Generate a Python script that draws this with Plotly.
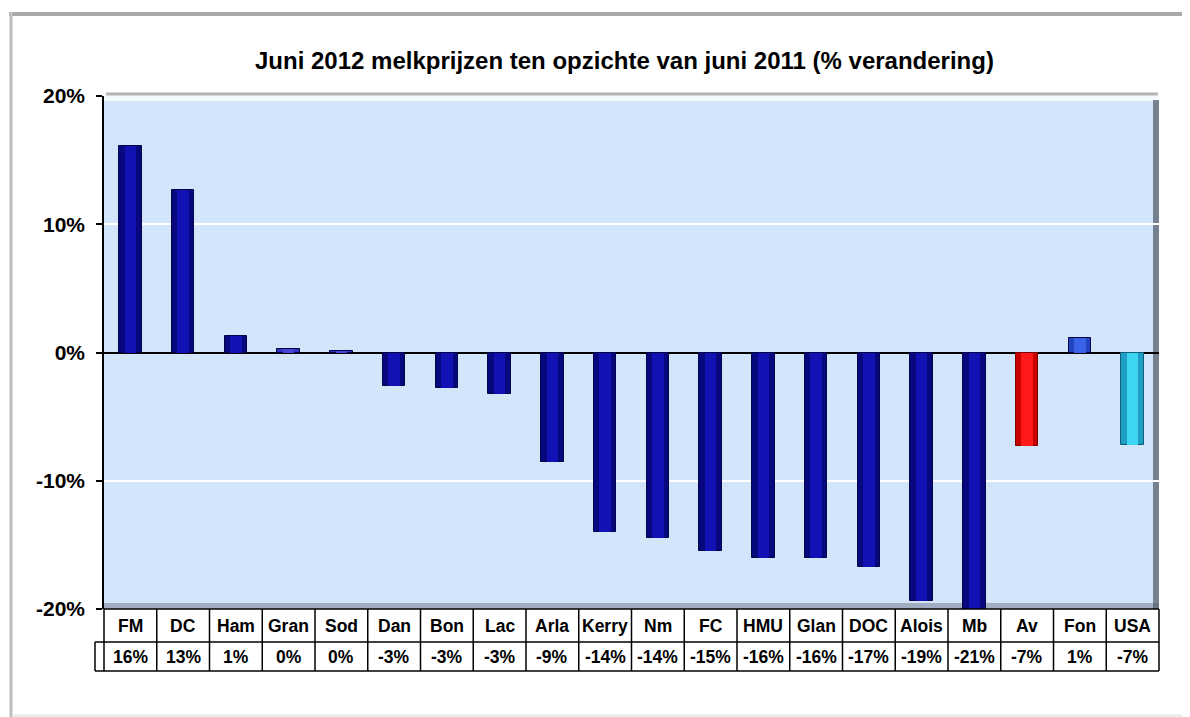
import plotly.graph_objects as go

categories = ["FM", "DC", "Ham", "Gran", "Sod", "Dan", "Bon", "Lac", "Arla", "Kerry",
              "Nm", "FC", "HMU", "Glan", "DOC", "Alois", "Mb", "Av", "Fon", "USA"]
changes = [16.1, 12.7, 1.3, 0.27, 0.13, -2.6, -2.75, -3.2, -8.55, -14.0,
           -14.45, -15.5, -16.0, -16.0, -16.7, -19.4, -21.0, -7.3, 1.1, -7.2]
table_values = ["16%", "13%", "1%", "0%", "0%", "-3%", "-3%", "-3%", "-9%", "-14%",
                "-14%", "-15%", "-16%", "-16%", "-17%", "-19%", "-21%", "-7%", "1%", "-7%"]
y_tickvals = [-20, -10, 0, 10, 20]
y_ticktext = ["-20%", "-10%", "0%", "10%", "20%"]
title_text = "Juni 2012 melkprijzen ten opzichte van juni 2011 (% verandering)"

OFF = 8  # page body margin
W, H = 1190 - OFF, 717 - OFF
L, R, T, B = 104, 1159, 96, 609  # plot area in screen pixels
FONT = "Liberation Sans, Arial, sans-serif"


def px(p):
    return (p - L) / (R - L)


def py(p):
    return (B - p) / (B - T)


special_outer = {"Gran": "#3434C0", "Sod": "#3434C0", "Av": "#C80000", "Fon": "#2244C0", "USA": "#1E9EC4"}
special_inner = {"Gran": "#4646D6", "Sod": "#4646D6", "Av": "#FF1A1A", "Fon": "#3A62E6", "USA": "#3ED4F4"}
outer_colors = [special_outer.get(c, "#07077E") for c in categories]
inner_colors = [special_inner.get(c, "#1212B4") for c in categories]
line_colors = ["#7A0000" if c == "Av" else "#0F5F7A" if c == "USA" else "#03034A" for c in categories]

fig = go.Figure()
fig.add_trace(go.Bar(x=categories, y=changes, width=0.43,
                     marker=dict(color=outer_colors, line=dict(color=line_colors, width=1)),
                     hoverinfo="skip", showlegend=False))
fig.add_trace(go.Bar(x=categories, y=changes, width=0.22,
                     marker=dict(color=inner_colors, line=dict(width=0)),
                     hoverinfo="skip", showlegend=False))

shapes = []
# outer frame
shapes.append(dict(type="line", xref="paper", yref="paper", x0=px(9), x1=px(1190), y0=py(14), y1=py(14),
                   line=dict(color="#A9A9A9", width=4), layer="below"))
shapes.append(dict(type="line", xref="paper", yref="paper", x0=px(11), x1=px(11), y0=py(12), y1=py(717),
                   line=dict(color="#BDBDBD", width=3), layer="below"))
shapes.append(dict(type="line", xref="paper", yref="paper", x0=px(1187.5), x1=px(1187.5), y0=py(16), y1=py(717),
                   line=dict(color="#DADADA", width=2), layer="below"))
shapes.append(dict(type="line", xref="paper", yref="paper", x0=px(12), x1=px(1190), y0=py(715.5), y1=py(715.5),
                   line=dict(color="#E6E6E6", width=2), layer="below"))
# plot-area bevel and shadow
shapes.append(dict(type="line", xref="paper", yref="paper", x0=px(106), x1=px(1158), y0=py(94), y1=py(94),
                   line=dict(color="#B4B4B4", width=3), layer="below"))
shapes.append(dict(type="rect", xref="paper", yref="paper", x0=0, x1=1, y0=py(101), y1=1,
                   fillcolor="rgba(255,255,255,0.75)", line=dict(width=0), layer="below"))
shapes.append(dict(type="rect", xref="paper", yref="paper", x0=0, x1=1, y0=0, y1=py(603),
                   fillcolor="rgba(120,130,145,0.55)", line=dict(width=0), layer="below"))
shapes.append(dict(type="rect", xref="paper", yref="paper", x0=px(1153), x1=1, y0=0, y1=py(100),
                   fillcolor="rgba(85,95,110,0.75)", line=dict(width=0), layer="below"))

# table grid
ln = dict(color="black", width=1.5)
shapes.append(dict(type="line", xref="paper", yref="paper", x0=0, x1=1, y0=py(609), y1=py(609), line=ln))
shapes.append(dict(type="line", xref="paper", yref="paper", x0=px(95), x1=1, y0=py(642), y1=py(642), line=ln))
shapes.append(dict(type="line", xref="paper", yref="paper", x0=px(95), x1=1, y0=py(671), y1=py(671), line=ln))
shapes.append(dict(type="line", xref="paper", yref="paper", x0=px(95), x1=px(95), y0=py(642), y1=py(671), line=ln))
n = len(categories)
for k in range(n + 1):
    shapes.append(dict(type="line", xref="paper", yref="paper", x0=k / n, x1=k / n,
                       y0=py(609), y1=py(671), line=ln))

annotations = []
for cat, val in zip(categories, table_values):
    annotations.append(dict(x=cat, xref="x", y=py(626), yref="paper", text=cat, showarrow=False,
                            font=dict(family=FONT, size=17.5, color="black", weight="bold"),
                            xanchor="center", yanchor="middle"))
    annotations.append(dict(x=cat, xref="x", y=py(656.5), yref="paper", text=val, showarrow=False,
                            font=dict(family=FONT, size=17.5, color="black", weight="bold"),
                            xanchor="center", yanchor="middle"))
annotations.append(dict(x=px(624), xref="paper", y=py(60), yref="paper", text=title_text, showarrow=False,
                        font=dict(family=FONT, size=24, color="black", weight="bold"),
                        xanchor="center", yanchor="middle"))

fig.update_layout(
    width=W, height=H,
    margin=dict(l=L - OFF, r=(W + OFF) - R, t=T - OFF, b=(H + OFF) - B, pad=0),
    paper_bgcolor="white",
    plot_bgcolor="#D3E5FB",
    barmode="overlay",
    bargap=0,
    shapes=shapes,
    annotations=annotations,
    showlegend=False,
    xaxis=dict(type="category", categoryorder="array", categoryarray=categories,
               range=[-0.5, n - 0.5], showticklabels=False, showgrid=False, zeroline=False,
               showline=False, ticks="", fixedrange=True),
    yaxis=dict(range=[-20, 20], tickvals=y_tickvals, ticktext=y_ticktext,
               showgrid=True, gridcolor="white", gridwidth=1.5,
               zeroline=True, zerolinecolor="black", zerolinewidth=1.5,
               showline=True, linecolor="black", linewidth=1.5,
               ticks="outside", ticklen=6, tickcolor="black", tickwidth=1.5,
               ticklabelstandoff=7,
               tickfont=dict(family=FONT, size=21, color="black", weight="bold"),
               fixedrange=True),
)

fig.write_html("out.html")
